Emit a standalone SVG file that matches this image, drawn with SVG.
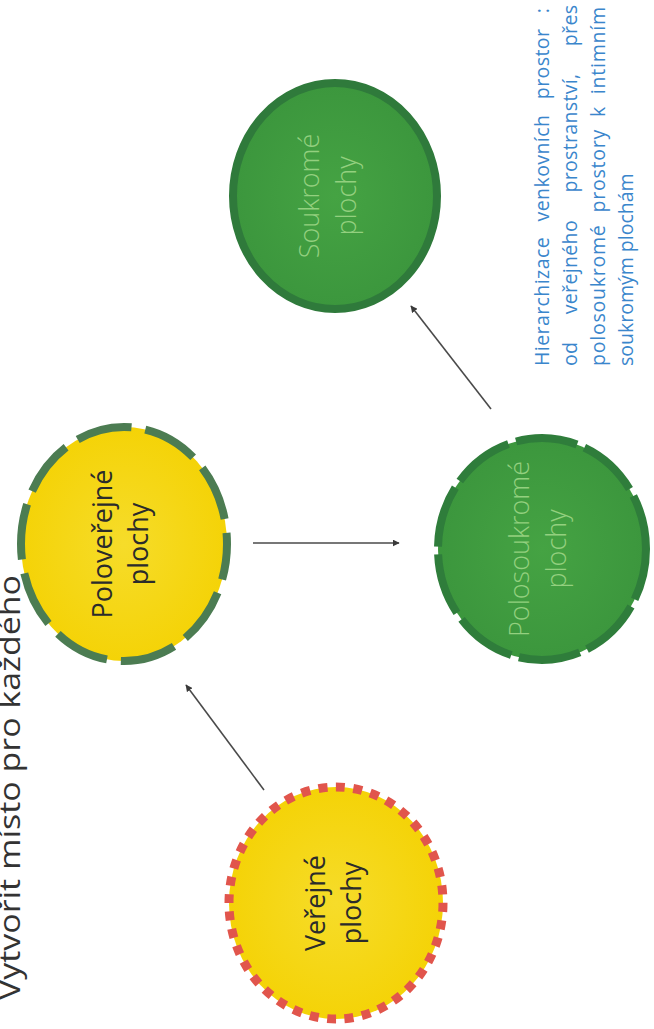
<svg xmlns="http://www.w3.org/2000/svg" width="654" height="1029" viewBox="0 0 654 1029">
<style>
.lbl{font-family:"Open Sans","Liberation Sans",sans-serif;font-size:27px;text-anchor:middle}
.dark{fill:#2b2b2b}
.light{fill:#93d07f;font-weight:300}
.desc{font-family:"Open Sans","Liberation Sans",sans-serif;font-size:19.5px;fill:#3a86cc}
.title{font-family:"Open Sans","Liberation Sans",sans-serif;font-size:30px;fill:#333333}
.conn{stroke:#4a4a4a;stroke-width:1.6;fill:none;marker-end:url(#ah)}
</style>
<defs>
<radialGradient id="yel" cx="50%" cy="50%" r="60%">
<stop offset="0" stop-color="#f6dc2a"/><stop offset="1" stop-color="#f4d100"/>
</radialGradient>
<radialGradient id="grn" cx="50%" cy="50%" r="60%">
<stop offset="0" stop-color="#45a343"/><stop offset="1" stop-color="#3a943c"/>
</radialGradient>
<marker id="ah" viewBox="0 0 10 10" refX="9" refY="5" markerWidth="7" markerHeight="7" orient="auto" markerUnits="userSpaceOnUse">
<path d="M0,0 L10,5 L0,10 z" fill="#3a3a3a"/>
</marker>
</defs>
<rect width="654" height="1029" fill="#ffffff"/>
<text class="title" transform="rotate(-90)" x="-1000" y="20" textLength="425" lengthAdjust="spacingAndGlyphs">Vytvořit místo pro každého</text>
<g id="connectors">
<line class="conn" x1="264" y1="790" x2="186" y2="685"/>
<line class="conn" x1="253" y1="543" x2="399" y2="543"/>
<line class="conn" x1="491" y1="409" x2="411" y2="306"/>
</g>
<g id="verejne">
<ellipse cx="336" cy="903" rx="107" ry="116" fill="url(#yel)" stroke="#e1554c" stroke-width="9" stroke-dasharray="9 8.5"/>
<text class="lbl dark" transform="translate(336,903) rotate(-90)"><tspan x="0" y="-11">Veřejné</tspan><tspan x="0" y="25">plochy</tspan></text>
</g>
<g id="poloverejne">
<ellipse cx="124" cy="544" rx="103" ry="117" fill="url(#yel)" stroke="#4c7c52" stroke-width="8" stroke-dasharray="56 14" stroke-dashoffset="20"/>
<text class="lbl dark" transform="translate(124,544) rotate(-90)"><tspan x="0" y="-12">Poloveřejné</tspan><tspan x="0" y="24">plochy</tspan></text>
</g>
<g id="polosoukrome">
<ellipse cx="542" cy="549" rx="104" ry="111" fill="url(#grn)" stroke="#2f7d3b" stroke-width="8" stroke-dasharray="62 8" stroke-dashoffset="10"/>
<text class="lbl light" transform="translate(542,549) rotate(-90)"><tspan x="0" y="-13">Polosoukromé</tspan><tspan x="0" y="24">plochy</tspan></text>
</g>
<g id="soukrome">
<ellipse cx="335" cy="196" rx="102" ry="113" fill="url(#grn)" stroke="#2f7a3b" stroke-width="8"/>
<text class="lbl light" transform="translate(335,196) rotate(-90)"><tspan x="0" y="-16">Soukromé</tspan><tspan x="0" y="21">plochy</tspan></text>
</g>
<g id="description" transform="rotate(-90)">
<text class="desc" x="-366" y="549" textLength="358" lengthAdjust="spacing" style="word-spacing:10px">Hierarchizace venkovních prostor :</text>
<text class="desc" x="-366" y="577" textLength="361" lengthAdjust="spacing" style="word-spacing:22px">od veřejného prostranství, přes</text>
<text class="desc" x="-366" y="605" textLength="359" lengthAdjust="spacing" style="word-spacing:6px">polosoukromé prostory k intimním</text>
<text class="desc" x="-366" y="633">soukromým plochám</text>
</g>
</svg>
